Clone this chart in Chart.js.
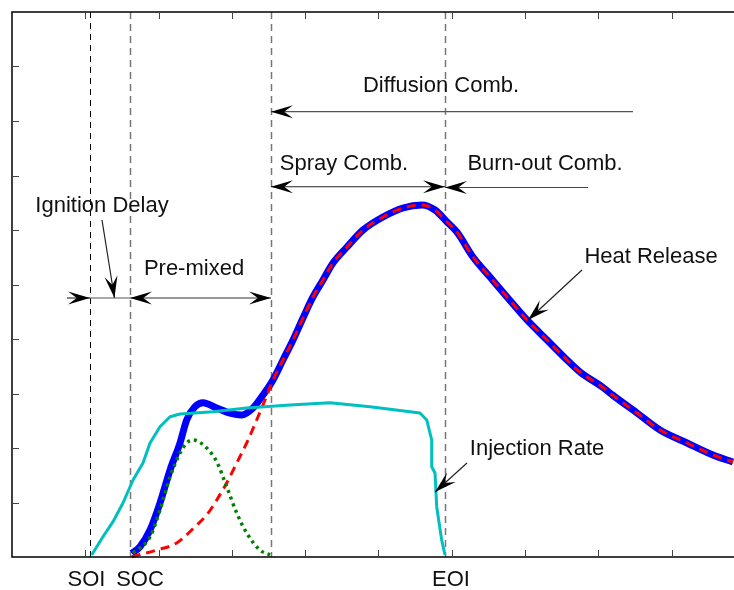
<!DOCTYPE html>
<html>
<head>
<meta charset="utf-8">
<script src="https://cdn.jsdelivr.net/npm/chart.js@4.4.1/dist/chart.umd.min.js"></script>
<style>
  html, body { margin: 0; padding: 0; background: #fff; }
  canvas { display: block; }
</style>
</head>
<body>
<canvas id="combChart" width="734" height="590"></canvas>
<script>
// heat release rate (total)
var hrX = [1.633, 1.746, 1.883, 2.019, 2.156, 2.292, 2.383, 2.497, 2.606, 2.793, 2.974, 3.134, 3.288, 3.407,
           3.561, 3.697, 3.834, 3.970, 4.106, 4.243, 4.379, 4.570, 4.789, 5.061, 5.334, 5.593, 5.771, 5.935,
           6.071, 6.289, 6.521, 6.753, 7.026, 7.299, 7.572, 7.749, 8.063, 8.199, 8.527, 8.840, 9.209, 9.563, 9.836];
var hrY = [0.068, 0.189, 0.495, 0.991, 1.596, 2.092, 2.514, 2.758, 2.831, 2.734, 2.642, 2.606, 2.734, 2.941,
           3.248, 3.615, 3.982, 4.385, 4.771, 5.083, 5.394, 5.688, 6.000, 6.239, 6.404, 6.459, 6.367, 6.147,
           5.960, 5.505, 5.138, 4.771, 4.349, 3.982, 3.615, 3.394, 3.110, 2.965, 2.642, 2.330, 2.092, 1.872, 1.743];

// diffusion part (joins the total after the pre-mixed phase)
var diffX = [1.633, 1.974, 2.247, 2.520, 2.656, 2.793, 2.929, 3.066, 3.202, 3.338, 3.452];
var diffY = [0.006, 0.128, 0.257, 0.587, 0.771, 1.046, 1.358, 1.725, 2.092, 2.514, 2.881];

// pre-mixed part
var premixX = [1.651, 1.883, 2.019, 2.156, 2.292, 2.383, 2.469, 2.656, 2.793, 2.929, 3.066, 3.202, 3.383, 3.520];
var premixY = [0.073, 0.367, 0.862, 1.468, 1.908, 2.092, 2.147, 2.000, 1.749, 1.290, 0.807, 0.440, 0.128, 0.037];

// injection rate
var injX = [1.087, 1.241, 1.378, 1.514, 1.651, 1.787, 1.883, 2.019, 2.156, 2.292, 2.742, 3.202, 3.793, 4.338,
            4.884, 5.430, 5.566, 5.658, 5.726, 5.726, 5.771, 5.794, 5.862, 5.907];
var injY = [0.037, 0.372, 0.648, 0.991, 1.413, 1.725, 2.092, 2.391, 2.574, 2.624, 2.666, 2.734, 2.789, 2.831,
            2.758, 2.666, 2.642, 2.514, 2.147, 1.657, 1.541, 0.923, 0.312, 0.037];

// event markers on the crank axis
var eventLabels = ['SOI', 'SOC', 'EOI'];
var eventLabelX = [1.016, 1.746, 5.989];
var phaseLineX = [1.064, 1.610, 3.533, 5.907];

function pts(xs, ys) {
    return xs.map(function (x, i) { return { x: x, y: ys[i] }; });
}

// diffusion curve follows the total once pre-mixed burning is over
var diffTail = pts(hrX, hrY).filter(function (p) { return p.x > 3.5; });
var diffData = pts(diffX, diffY).concat(diffTail);

var FONT = '22px "Liberation Sans", Arial, sans-serif';

function arrowHead(ctx, x1, y1, x2, y2) {
    // filled head with notched back, tip at (x2, y2)
    var L = 22, W = 6.5, N = 0.6;
    var a = Math.atan2(y2 - y1, x2 - x1);
    var c = Math.cos(a), s = Math.sin(a);
    ctx.beginPath();
    ctx.moveTo(x2, y2);
    ctx.lineTo(x2 - L * c - W * s, y2 - L * s + W * c);
    ctx.lineTo(x2 - N * L * c, y2 - N * L * s);
    ctx.lineTo(x2 - L * c + W * s, y2 - L * s - W * c);
    ctx.closePath();
    ctx.fillStyle = '#000';
    ctx.fill();
}

// heads: 0 = none, 1 = at end point, 2 = both ends
function arrow(ctx, xs, ys, x1, y1, x2, y2, heads, color) {
    var px1 = xs.getPixelForValue(x1), py1 = ys.getPixelForValue(y1);
    var px2 = xs.getPixelForValue(x2), py2 = ys.getPixelForValue(y2);
    ctx.beginPath();
    ctx.moveTo(px1, py1);
    ctx.lineTo(px2, py2);
    ctx.strokeStyle = color || '#333';
    ctx.lineWidth = 1.2;
    ctx.setLineDash([]);
    ctx.stroke();
    if (heads >= 1) arrowHead(ctx, px1, py1, px2, py2);
    if (heads === 2) arrowHead(ctx, px2, py2, px1, py1);
}

function label(ctx, xs, ys, text, x, y) {
    ctx.font = FONT;
    ctx.fillStyle = '#111';
    ctx.textAlign = 'center';
    ctx.textBaseline = 'alphabetic';
    ctx.fillText(text, xs.getPixelForValue(x), ys.getPixelForValue(y));
}

var phasePlugin = {
    id: 'phases',
    beforeDatasetsDraw: function (chart) {
        var ctx = chart.ctx, a = chart.chartArea, xs = chart.scales.x;
        ctx.save();
        phaseLineX.forEach(function (v, i) {
            var px = Math.round(xs.getPixelForValue(v)) + 0.5;
            ctx.beginPath();
            ctx.moveTo(px, a.top);
            ctx.lineTo(px, a.bottom);
            if (i === 0) {
                ctx.strokeStyle = '#000';
                ctx.lineWidth = 1;
                ctx.setLineDash([6, 5]);
            } else {
                ctx.strokeStyle = '#777';
                ctx.lineWidth = 1.5;
                ctx.setLineDash([7, 5]);
            }
            ctx.stroke();
        });
        ctx.restore();
    },
    afterDatasetsDraw: function (chart) {
        var ctx = chart.ctx, a = chart.chartArea;
        var xs = chart.scales.x, ys = chart.scales.y;
        ctx.save();

        // frame (left, top, bottom) and inward ticks
        ctx.setLineDash([]);
        ctx.strokeStyle = '#000';
        ctx.lineWidth = 1.5;
        ctx.beginPath();
        ctx.moveTo(a.right + 5, a.top);
        ctx.lineTo(a.left, a.top);
        ctx.lineTo(a.left, a.bottom);
        ctx.lineTo(a.right + 5, a.bottom);
        ctx.stroke();
        ctx.strokeStyle = '#444';
        ctx.lineWidth = 1;
        ctx.beginPath();
        for (var t = 1; t <= 9; t++) {
            var tx = Math.round(xs.getPixelForValue(t)) + 0.5;
            ctx.moveTo(tx, a.bottom); ctx.lineTo(tx, a.bottom - 7);
            ctx.moveTo(tx, a.top); ctx.lineTo(tx, a.top + 7);
            var ty = Math.round(ys.getPixelForValue(t)) + 0.5;
            ctx.moveTo(a.left, ty); ctx.lineTo(a.left + 7, ty);
        }
        ctx.stroke();

        // phase arrows
        arrow(ctx, xs, ys, 0.750, 4.752, 1.064, 4.752, 1, '#333');
        arrow(ctx, xs, ys, 1.064, 4.752, 1.610, 4.752, 0, '#555');
        arrow(ctx, xs, ys, 1.610, 4.752, 3.533, 4.752, 2, '#333');
        arrow(ctx, xs, ys, 1.228, 6.183, 1.398, 4.752, 1, '#222');
        arrow(ctx, xs, ys, 8.472, 8.171, 3.533, 8.171, 1, '#555');
        arrow(ctx, xs, ys, 3.533, 6.794, 5.907, 6.794, 2, '#222');
        arrow(ctx, xs, ys, 7.858, 6.780, 5.907, 6.780, 1, '#444');
        arrow(ctx, xs, ys, 7.776, 5.266, 7.040, 4.349, 1, '#222');
        arrow(ctx, xs, ys, 6.207, 1.725, 5.771, 1.193, 1, '#222');

        label(ctx, xs, ys, 'Ignition Delay', 1.228, 6.330);
        label(ctx, xs, ys, 'Pre-mixed', 2.483, 5.174);
        label(ctx, xs, ys, 'Diffusion Comb.', 5.853, 8.532);
        label(ctx, xs, ys, 'Spray Comb.', 4.529, 7.101);
        label(ctx, xs, ys, 'Burn-out Comb.', 7.272, 7.101);
        label(ctx, xs, ys, 'Heat Release', 8.718, 5.394);
        label(ctx, xs, ys, 'Injection Rate', 7.163, 1.872);

        // event names under the axis
        ctx.font = FONT;
        ctx.fillStyle = '#111';
        ctx.textAlign = 'center';
        ctx.textBaseline = 'alphabetic';
        eventLabels.forEach(function (txt, i) {
            ctx.fillText(txt, xs.getPixelForValue(eventLabelX[i]), a.bottom + 29);
        });
        ctx.restore();
    }
};

new Chart(document.getElementById('combChart').getContext('2d'), {
    type: 'line',
    data: {
        datasets: [{
            label: 'Injection Rate',
            data: pts(injX, injY),
            borderColor: '#00bfbf',
            borderWidth: 3,
            tension: 0,
            order: 1
        }, {
            label: 'Pre-mixed',
            data: pts(premixX, premixY),
            borderColor: '#008000',
            borderWidth: 3.5,
            borderDash: [3, 4],
            cubicInterpolationMode: 'monotone',
            order: 2
        }, {
            label: 'Diffusion',
            data: diffData,
            borderColor: '#ff0000',
            borderWidth: 3,
            borderDash: [9, 6],
            cubicInterpolationMode: 'monotone',
            order: 3
        }, {
            label: 'Heat Release',
            data: pts(hrX, hrY),
            borderColor: '#0000ff',
            borderWidth: 7,
            cubicInterpolationMode: 'monotone',
            order: 4
        }]
    },
    options: {
        responsive: false,
        animation: false,
        layout: { padding: { left: 12, top: 12, right: 0, bottom: 33 } },
        elements: {
            point: { radius: 0 },
            line: { fill: false, borderCapStyle: 'butt', borderJoinStyle: 'round' }
        },
        datasets: { line: { clip: false } },
        plugins: { legend: { display: false }, tooltip: { enabled: false } },
        scales: {
            x: { type: 'linear', min: 0, max: 9.85, display: false },
            y: { type: 'linear', min: 0, max: 10, display: false }
        }
    },
    plugins: [phasePlugin]
});
</script>
</body>
</html>
